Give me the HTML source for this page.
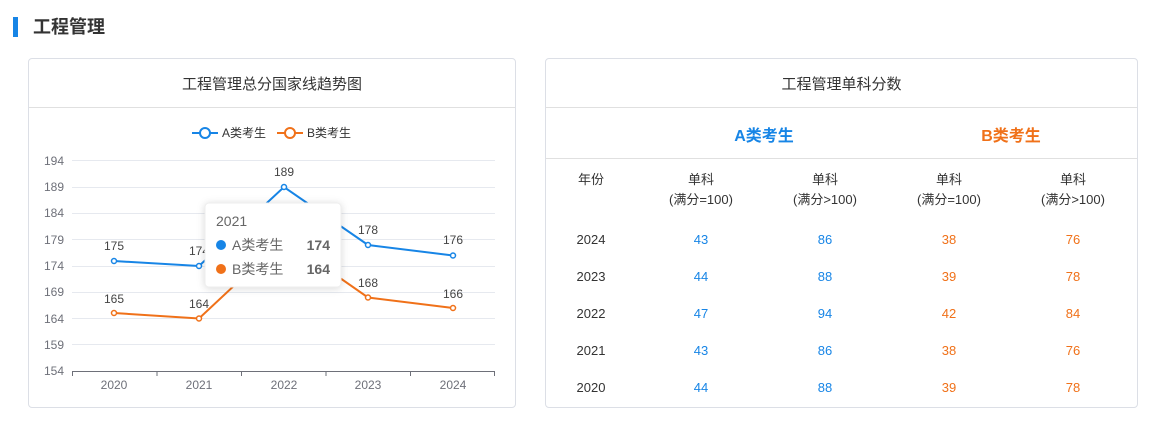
<!DOCTYPE html><html><head><meta charset="utf-8"><style>
*{margin:0;padding:0;box-sizing:border-box}
body{width:1160px;height:425px;background:#fff;font-family:"Liberation Sans","Noto Sans CJK SC",sans-serif;position:relative;overflow:hidden;color:#333}
.bar{position:absolute;left:13px;top:17px;width:5px;height:20px;background:#1785e6}
.h{position:absolute;left:33px;top:15px;font-size:18px;font-weight:bold;color:#333;line-height:24px}
.card{position:absolute;border:1px solid #dcdfe6;border-radius:4px;background:#fff}
.t{position:absolute;left:0;right:0;text-align:center;font-size:15px;color:#333}
.line{position:absolute;left:0;right:0;height:1px;background:#e0e0e0}
.c{position:absolute;text-align:center;font-size:13px;width:120px;line-height:20px}
</style></head><body>
<div class="bar"></div><div class="h">工程管理</div>
<div class="card" style="left:28px;top:58px;width:488px;height:350px">
<div class="t" style="top:14px">工程管理总分国家线趋势图</div>
<div class="line" style="top:48px"></div>
</div>
<svg style="position:absolute;left:0;top:0" width="1160" height="425" font-family="Liberation Sans,Noto Sans CJK SC,sans-serif">
<g stroke="#e6e9ef" stroke-width="1">
<line x1="72" x2="495" y1="160.5" y2="160.5"/><line x1="72" x2="495" y1="187.5" y2="187.5"/><line x1="72" x2="495" y1="213.5" y2="213.5"/><line x1="72" x2="495" y1="239.5" y2="239.5"/><line x1="72" x2="495" y1="266.5" y2="266.5"/><line x1="72" x2="495" y1="292.5" y2="292.5"/><line x1="72" x2="495" y1="318.5" y2="318.5"/><line x1="72" x2="495" y1="344.5" y2="344.5"/></g>
<g stroke="#6e7079"><line x1="72" x2="495" y1="371.5" y2="371.5"/>
<line x1="72.5" x2="72.5" y1="371" y2="376"/><line x1="157" x2="157" y1="371" y2="376"/><line x1="241.5" x2="241.5" y1="371" y2="376"/><line x1="326" x2="326" y1="371" y2="376"/><line x1="410.5" x2="410.5" y1="371" y2="376"/><line x1="494.5" x2="494.5" y1="371" y2="376"/></g>
<g font-size="12" fill="#6e7079" text-anchor="end"><text x="64" y="165">194</text><text x="64" y="191">189</text><text x="64" y="217">184</text><text x="64" y="244">179</text><text x="64" y="270">174</text><text x="64" y="296">169</text><text x="64" y="323">164</text><text x="64" y="349">159</text><text x="64" y="375">154</text></g>
<g font-size="12" fill="#6e7079" text-anchor="middle"><text x="114" y="389">2020</text><text x="199" y="389">2021</text><text x="284" y="389">2022</text><text x="368" y="389">2023</text><text x="453" y="389">2024</text></g>
<polyline points="114,313 199,318.5 284,239 368,297.5 453,308" fill="none" stroke="#f07119" stroke-width="2"/>
<polyline points="114,261 199,266 284,187 368,245 453,255.5" fill="none" stroke="#1785e6" stroke-width="2"/>
<g fill="#fff" stroke="#f07119" stroke-width="1.5"><circle cx="114" cy="313" r="2.5"/><circle cx="199" cy="318.5" r="2.5"/><circle cx="368" cy="297.5" r="2.5"/><circle cx="453" cy="308" r="2.5"/></g>
<g fill="#fff" stroke="#1785e6" stroke-width="1.5"><circle cx="114" cy="261" r="2.5"/><circle cx="199" cy="266" r="2.5"/><circle cx="284" cy="187" r="2.5"/><circle cx="368" cy="245" r="2.5"/><circle cx="453" cy="255.5" r="2.5"/></g>
<g font-size="12" fill="#444" text-anchor="middle"><text x="114" y="250">175</text><text x="199" y="255">174</text><text x="284" y="176">189</text><text x="368" y="234">178</text><text x="453" y="244">176</text>
<text x="114" y="303">165</text><text x="199" y="308">164</text><text x="368" y="287">168</text><text x="453" y="298">166</text></g>
<line x1="192" x2="218" y1="133" y2="133" stroke="#1785e6" stroke-width="2"/><circle cx="205" cy="133" r="5" fill="#fff" stroke="#1785e6" stroke-width="2"/>
<text x="222" y="137" font-size="12" fill="#333">A类考生</text>
<line x1="277" x2="303" y1="133" y2="133" stroke="#f07119" stroke-width="2"/><circle cx="290" cy="133" r="5" fill="#fff" stroke="#f07119" stroke-width="2"/>
<text x="307" y="137" font-size="12" fill="#333">B类考生</text>
<rect x="205" y="203" width="136" height="84" rx="4" fill="#fff" stroke="#eee" style="filter:drop-shadow(0 1px 4px rgba(0,0,0,.15))"/>
<text x="216" y="226" font-size="14" fill="#666">2021</text>
<circle cx="221" cy="245" r="5" fill="#1785e6"/><text x="232" y="250" font-size="14" fill="#666">A类考生</text><text x="330" y="250" font-size="14" font-weight="bold" fill="#666" text-anchor="end">174</text>
<circle cx="221" cy="269" r="5" fill="#f07119"/><text x="232" y="274" font-size="14" fill="#666">B类考生</text><text x="330" y="274" font-size="14" font-weight="bold" fill="#666" text-anchor="end">164</text>
</svg>
<div class="card" style="left:545px;top:58px;width:593px;height:350px">
<div class="t" style="top:14px">工程管理单科分数</div>
<div class="line" style="top:48px"></div>
<div class="t" style="top:63px;left:158px;right:auto;width:120px;font-size:16px;font-weight:bold;color:#1785e6">A类考生</div>
<div class="t" style="top:63px;left:405px;right:auto;width:120px;font-size:16px;font-weight:bold;color:#f07119">B类考生</div>
<div class="line" style="top:99px"></div>
</div>
<div style="position:absolute;left:0;top:0">
<div class="c" style="left:531px;top:170px">年份</div>
<div class="c" style="left:641px;top:170px">单科<br>(满分=100)</div>
<div class="c" style="left:765px;top:170px">单科<br>(满分&gt;100)</div>
<div class="c" style="left:889px;top:170px">单科<br>(满分=100)</div>
<div class="c" style="left:1013px;top:170px">单科<br>(满分&gt;100)</div>
</div>
<div style="position:absolute;left:0;top:0;font-size:13px">
<div class="c" style="left:531px;top:230px">2024</div><div class="c" style="left:641px;top:230px;color:#1785e6">43</div><div class="c" style="left:765px;top:230px;color:#1785e6">86</div><div class="c" style="left:889px;top:230px;color:#f07119">38</div><div class="c" style="left:1013px;top:230px;color:#f07119">76</div>
<div class="c" style="left:531px;top:267px">2023</div><div class="c" style="left:641px;top:267px;color:#1785e6">44</div><div class="c" style="left:765px;top:267px;color:#1785e6">88</div><div class="c" style="left:889px;top:267px;color:#f07119">39</div><div class="c" style="left:1013px;top:267px;color:#f07119">78</div>
<div class="c" style="left:531px;top:304px">2022</div><div class="c" style="left:641px;top:304px;color:#1785e6">47</div><div class="c" style="left:765px;top:304px;color:#1785e6">94</div><div class="c" style="left:889px;top:304px;color:#f07119">42</div><div class="c" style="left:1013px;top:304px;color:#f07119">84</div>
<div class="c" style="left:531px;top:341px">2021</div><div class="c" style="left:641px;top:341px;color:#1785e6">43</div><div class="c" style="left:765px;top:341px;color:#1785e6">86</div><div class="c" style="left:889px;top:341px;color:#f07119">38</div><div class="c" style="left:1013px;top:341px;color:#f07119">76</div>
<div class="c" style="left:531px;top:378px">2020</div><div class="c" style="left:641px;top:378px;color:#1785e6">44</div><div class="c" style="left:765px;top:378px;color:#1785e6">88</div><div class="c" style="left:889px;top:378px;color:#f07119">39</div><div class="c" style="left:1013px;top:378px;color:#f07119">78</div>
</div>
</body></html>
